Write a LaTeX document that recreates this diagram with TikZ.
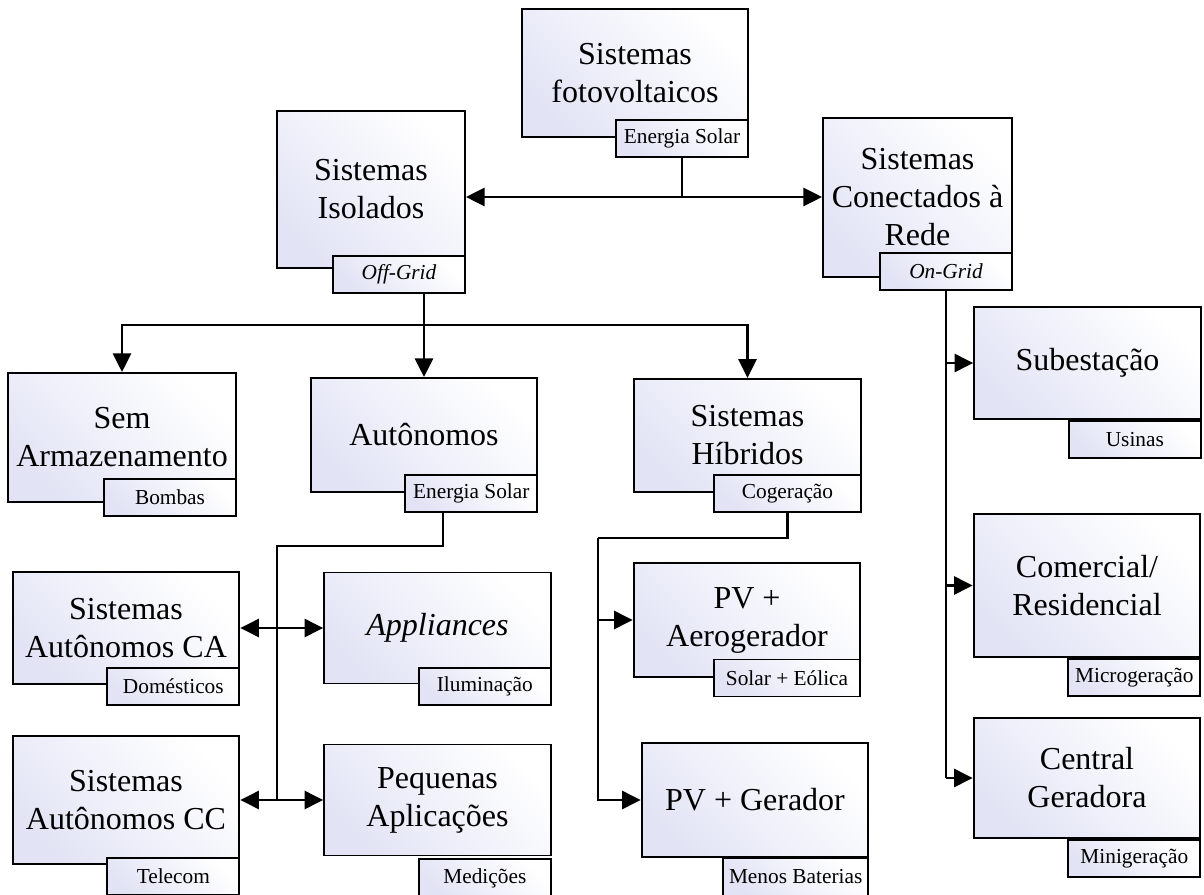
\documentclass[tikz,border=0pt]{standalone}
\usepackage{fontspec}
\setmainfont{Liberation Serif}
\usetikzlibrary{arrows.meta,positioning}
\definecolor{boxblue}{RGB}{226,228,245}

\begin{document}
\begin{tikzpicture}[x=0.75pt,y=-0.75pt,>={Triangle[length=14pt,width=13.5pt]},
                    box/.style={draw,line width=1.4pt,top color=boxblue,bottom color=white,
                      shading angle=135,
                      minimum width=170pt,inner sep=2pt,align=center,
                      font=\fontsize{24}{28.5}\selectfont},
                    tag/.style={draw,line width=1.4pt,top color=boxblue,bottom color=white,
                      shading angle=135,
                      minimum width=99pt,minimum height=27.75pt,inner sep=1pt,
                      font=\fontsize{16}{18}\selectfont,anchor=north east},
                    conn/.style={line width=2pt}]

  \useasboundingbox (0,0) rectangle (1204,895);

  % top level
  \node[box,minimum width=169.5pt,minimum height=96pt]    (foto) at (635,73)      {Sistemas\\fotovoltaicos};
  \node[box,minimum width=141pt,minimum height=117.75pt]  (iso)  at (371,189.5)   {Sistemas\\Isolados};
  \node[box,minimum width=141.75pt,minimum height=119.25pt] (con) at (917.5,197.5) {Sistemas\\Conectados à\\Rede};

  \node[tag] (tf)  at ([yshift=14.25pt]foto.south east) {Energia Solar};
  \node[tag] (to)  at ([yshift=10.5pt]iso.south east)   {\itshape Off-Grid};
  \node[tag] (tc)  at ([yshift=19.5pt]con.south east)   {\itshape On-Grid};

  % off-grid
  \node[box,minimum width=171pt,minimum height=96.75pt] (sem) at (122,437.5)   {Sem\\Armazenamento};
  \node[box,minimum height=85.5pt]                      (aut) at (424,435)     {Autônomos};
  \node[box,minimum height=85pt]                        (hib) at (747.5,435.5) {Sistemas\\Híbridos};

  \node[tag] (tsem) at ([yshift=18.75pt]sem.south east) {Bombas};
  \node[tag] (taut) at ([yshift=14.25pt]aut.south east) {Energia Solar};
  \node[tag,minimum width=110pt] (thib) at ([yshift=14.25pt]hib.south east) {Cogeração};

  \node[box,minimum height=84pt]    (ca)  at (126,628)   {Sistemas\\Autônomos CA};
  \node[box,minimum height=83.25pt] (app) at (437.5,628) {\itshape Appliances};
  \node[box,minimum height=96pt]    (cc)  at (126,800)   {Sistemas\\Autônomos CC};
  \node[box,minimum height=83.25pt] (peq) at (437.5,800) {Pequenas\\Aplicações};

  \node[tag] (tca)  at ([yshift=13.5pt]ca.south east)   {Domésticos};
  \node[tag] (tapp) at ([yshift=12.75pt]app.south east) {Iluminação};
  \node[tag] (tcc)  at ([yshift=6pt]cc.south east)      {Telecom};
  \node[tag] (tpeq) at ([yshift=-1.5pt]peq.south east)  {Medições};

  \node[box,minimum height=85pt] (aero) at (747,620)   {PV +\\Aerogerador};
  \node[box,minimum height=85pt] (ger)  at (755,800)   {PV + Gerador};

  \node[tag,minimum width=110pt] (taero) at ([yshift=14.25pt]aero.south east) {Solar + Eólica};
  \node[tag,minimum width=109pt] (tger)  at (ger.south east)                  {Menos Baterias};

  % on-grid
  \node[box,minimum height=84pt]    (sub) at (1087.5,363) {Subestação};
  \node[box,minimum height=107pt]   (com) at (1087,585.5) {Comercial/\\Residencial};
  \node[box,minimum height=90pt]    (cen) at (1087,778)   {Central\\Geradora};

  \node[tag] (tsub) at (sub.south east) {Usinas};
  \node[tag] (tcom) at (com.south east) {Microgeração};
  \node[tag] (tcen) at (cen.south east) {Minigeração};

  % connectors
  \coordinate (fj) at (681,197);
  \draw[conn] (tf.south) -- (tf.south |- fj);
  \draw[conn,<->] (iso.east |- fj) -- (con.west |- fj);

  \coordinate (oj) at (424,325);
  \draw[conn] (oj |- to.south) -- (oj);
  \draw[conn,->] (oj) -| (sem.north);
  \draw[conn,->] (oj) -- (aut.north);
  \draw[conn,->] (oj) -| (hib.north);

  \coordinate (aj) at (443,546);
  \coordinate (ak) at (277,546);
  \draw[conn] (taut.south -| aj) -- (aj) -- (ak) -- (ak |- cc.east);
  \draw[conn,<->] (ca.east) -- (app.west);
  \draw[conn,<->] (cc.east) -- (peq.west);

  \coordinate (hj) at (598,538);
  \draw[conn] (thib.south) |- (hj);
  \draw[conn,->] (hj) |- (aero.west);
  \draw[conn,->] (hj) |- (ger.west);

  \draw[conn] (tc.south) -- (tc.south |- cen.west);
  \draw[conn,->] (tc.south |- sub.west) -- (sub.west);
  \draw[conn,->] (tc.south |- com.west) -- (com.west);
  \draw[conn,->] (tc.south |- cen.west) -- (cen.west);
\end{tikzpicture}
\end{document}
